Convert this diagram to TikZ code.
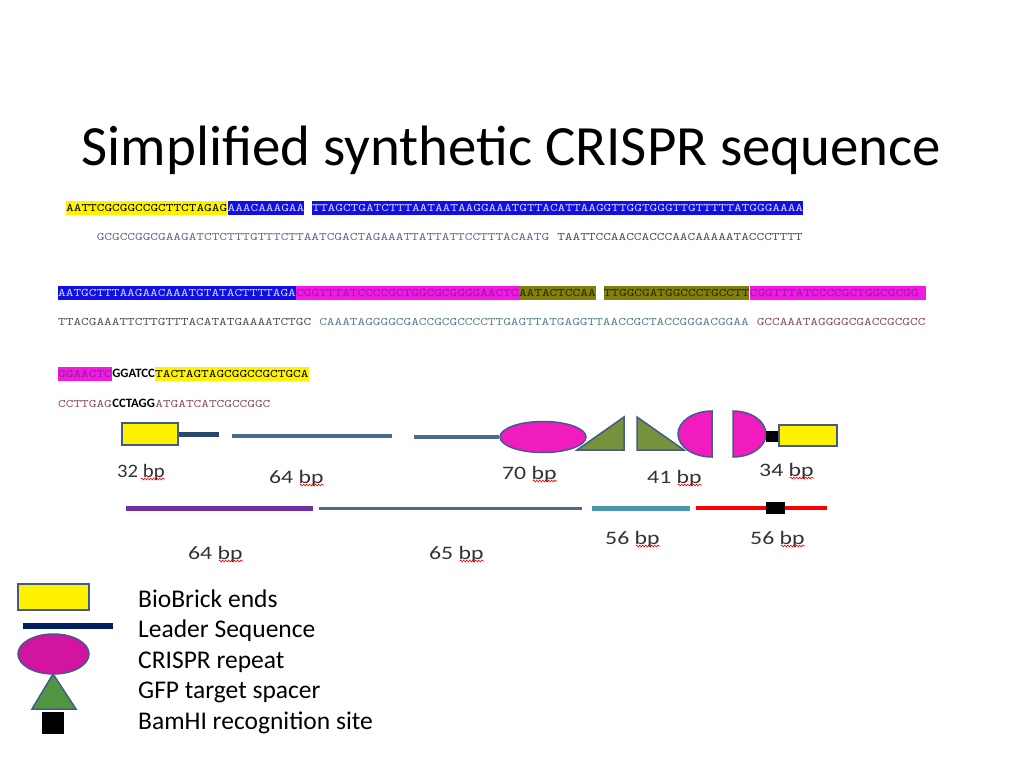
\documentclass[tikz,border=0pt]{standalone}
\usepackage{fontspec}
\usepackage{graphicx}
\setmainfont{Carlito}
\newfontfamily\seqfont{lmmono10-regular}[Extension=.otf,FakeStretch=1.27]
\usetikzlibrary{shapes.geometric,decorations.pathmorphing}
\definecolor{hlblue}{RGB}{15,15,230}
\definecolor{hlmag}{RGB}{240,25,230}
\definecolor{hlolive}{RGB}{128,128,10}
\definecolor{txblue}{RGB}{215,215,255}
\definecolor{txmag}{RGB}{150,30,140}
\definecolor{txolive}{RGB}{40,40,0}
\definecolor{cpurple}{RGB}{115,95,135}
\definecolor{cgray}{RGB}{80,80,80}
\definecolor{cteal}{RGB}{90,125,140}
\definecolor{cmaroon}{RGB}{135,75,100}
\definecolor{rim}{RGB}{70,90,135}
\definecolor{leaddark}{RGB}{45,72,112}
\definecolor{leader}{RGB}{75,105,145}
\definecolor{crrepeat}{RGB}{240,28,192}
\definecolor{spacer}{RGB}{118,146,60}
\definecolor{navy}{RGB}{0,32,96}
\definecolor{legrep}{RGB}{210,20,160}
\definecolor{leggreen}{RGB}{80,150,65}
\definecolor{trail}{RGB}{112,48,160}
\definecolor{tealline}{RGB}{72,152,174}
\tikzset{
  seq/.style={inner xsep=0pt,inner ysep=1pt,text height=9pt,text depth=3pt,anchor=base west,font=\seqfont\fontsize{11.5pt}{13pt}\selectfont},
  site/.style={seq,font=\bfseries\fontsize{12.75pt}{14pt}\selectfont},
  lbl/.style={inner sep=0pt,anchor=base west,text=black!80,font=\fontsize{19pt}{22pt}\selectfont},
  legtxt/.style={inner sep=0pt,anchor=base west,font=\fontsize{25.5pt}{30pt}\selectfont},
  squig/.style={red,line width=0.6pt,decorate,decoration={snake,amplitude=0.9pt,segment length=3pt}},
  brick/.style={draw=rim,fill=yellow,line width=1.5pt,inner sep=0pt},
  part/.style={draw=rim,line width=1.5pt}
}
\newcommand\bplabel[4]{%
  \node[lbl] (#1) at (#2) {\scalebox{#3}[1]{#4 bp}};
  \draw[squig] ([xshift=-24pt,yshift=-2pt]#1.base east) -- ([yshift=-2pt]#1.base east);}
\begin{document}
\begin{tikzpicture}[x=1pt,y=-1pt]
\useasboundingbox[fill=white] (0,0) rectangle (1024,768);
\node[anchor=base,inner sep=0pt,font=\fontsize{56.9pt}{60pt}\selectfont] (title) at (511.5,165) {Simplified synthetic CRISPR sequence};

\node[seq,fill=yellow] (s1a) at (66,211) {AATTCGCGGCCGCTTCTAGAG};
\node[seq,fill=hlblue,text=txblue] (s1b) at (s1a.base east) {AAACAAAGAA};
\node[seq,fill=hlblue,text=txblue] (s1c) at ([xshift=7.66pt]s1b.base east) {TTAGCTGATCTTTAATAATAAGGAAATGTTACATTAAGGTTGGTGGGTTGTTTTTATGGGAAAA};
\node[seq,text=cpurple] (c1a) at (96.6,240) {GCGCCGGCGAAGATCTCTTTGTTTCTTAATCGACTAGAAATTATTATTCCTTTACAATG};
\node[seq,text=cgray] (c1b) at ([xshift=7.66pt]c1a.base east) {TAATTCCAACCACCCAACAAAAATACCCTTTT};

\node[seq,fill=hlblue,text=txblue] (s2a) at (58,296) {AATGCTTTAAGAACAAATGTATACTTTTAGA};
\node[seq,fill=hlmag,text=txmag] (s2b) at (s2a.base east) {CGGTTTATCCCCGCTGGCGCGGGGAACTC};
\node[seq,fill=hlolive,text=txolive] (s2c) at (s2b.base east) {AATACTCCAA};
\node[seq,fill=hlolive,text=txolive] (s2d) at ([xshift=7.66pt]s2c.base east) {TTGGCGATGGCCCTGCCTT};
\node[seq,fill=hlmag,text=txmag] (s2e) at (s2d.base east) {CGGTTTATCCCCGCTGGCGCGG\hphantom{G}};
\node[seq,text=cgray] (c2a) at (58,325) {TTACGAAATTCTTGTTTACATATGAAAATCTGC};
\node[seq,text=cteal] (c2b) at ([xshift=7.66pt]c2a.base east) {CAAATAGGGGCGACCGCGCCCCTTGAGTTATGAGGTTAACCGCTACCGGGACGGAA};
\node[seq,text=cmaroon] (c2c) at ([xshift=7.66pt]c2b.base east) {GCCAAATAGGGGCGACCGCGCC};

\node[seq,fill=hlmag,text=txmag] (s3a) at (58,377) {GGAACTC};
\node[site] (s3b) at (s3a.base east) {GGATCC};
\node[seq,fill=yellow] (s3c) at (s3b.base east) {TACTAGTAGCGGCCGCTGCA};
\node[seq,text=cmaroon] (c3a) at (58,407) {CCTTGAG};
\node[site] (c3b) at (c3a.base east) {CCTAGG};
\node[seq,text=cmaroon] (c3c) at (c3b.base east) {ATGATCATCGCCGGC};

\node[brick,minimum width=56pt,minimum height=22pt] (bb1) at (150,434) {};
\draw[leaddark,line width=5pt] (bb1.east) -- (219,434);
\draw[leader,line width=4pt] (232,436) -- (392,436);
\node[ellipse,part,fill=crrepeat,minimum width=86pt,minimum height=31pt] (rp1) at (543,437) {};
\draw[leader,line width=4pt] (414,437) -- (rp1.west);
\draw[part,fill=spacer] (577,450) -- (624,417) -- (624,450) -- cycle;
\draw[part,fill=spacer] (637,417) -- (637,450) -- (684,450) -- cycle;
\draw[part,fill=crrepeat] (712,411) arc[start angle=90,end angle=270,x radius=34pt,y radius=23pt] -- cycle;
\draw[part,fill=crrepeat] (733,411) arc[start angle=90,end angle=-90,x radius=33pt,y radius=23pt] -- cycle;
\node[brick,minimum width=58pt,minimum height=21pt] (bb2) at (808,435.5) {};
\fill (766,431) rectangle (bb2.west |- 0,442);

\bplabel{l32}{117,477}{1.09}{32}
\bplabel{l64a}{269,483}{1.25}{64}
\bplabel{l70}{502,479}{1.25}{70}
\bplabel{l41}{647,483}{1.25}{41}
\bplabel{l34}{759,476}{1.25}{34}

\draw[trail,line width=5pt] (126,508) -- (313,508);
\draw[leader,line width=3pt] (319,508) -- (582,508);
\draw[tealline,line width=5pt] (592,508) -- (690,508);
\draw[red,line width=4pt] (696,508) -- (827,508);
\fill (766,502) rectangle (785,514);

\bplabel{l64b}{188,559}{1.25}{64}
\bplabel{l65}{429,559}{1.25}{65}
\bplabel{l56a}{605,544}{1.25}{56}
\bplabel{l56b}{750,544}{1.25}{56}

\draw[part,fill=yellow] (18,584) rectangle (89,610);
\draw[navy,line width=6pt] (23,626) -- (113,626);
\draw[part,fill=legrep] (53.5,654) ellipse[x radius=35.5pt,y radius=20pt];
\draw[part,fill=leggreen] (53,674) -- (76,709) -- (32,709) -- cycle;
\fill (42,712) rectangle (64,734);
\node[legtxt] (k1) at (138,607) {BioBrick ends};
\node[legtxt] (k2) at (138,637.5) {Leader Sequence};
\node[legtxt] (k3) at (138,668) {CRISPR repeat};
\node[legtxt] (k4) at (138,698.5) {GFP target spacer};
\node[legtxt] (k5) at (138,729) {BamHI recognition site};
\end{tikzpicture}
\end{document}
